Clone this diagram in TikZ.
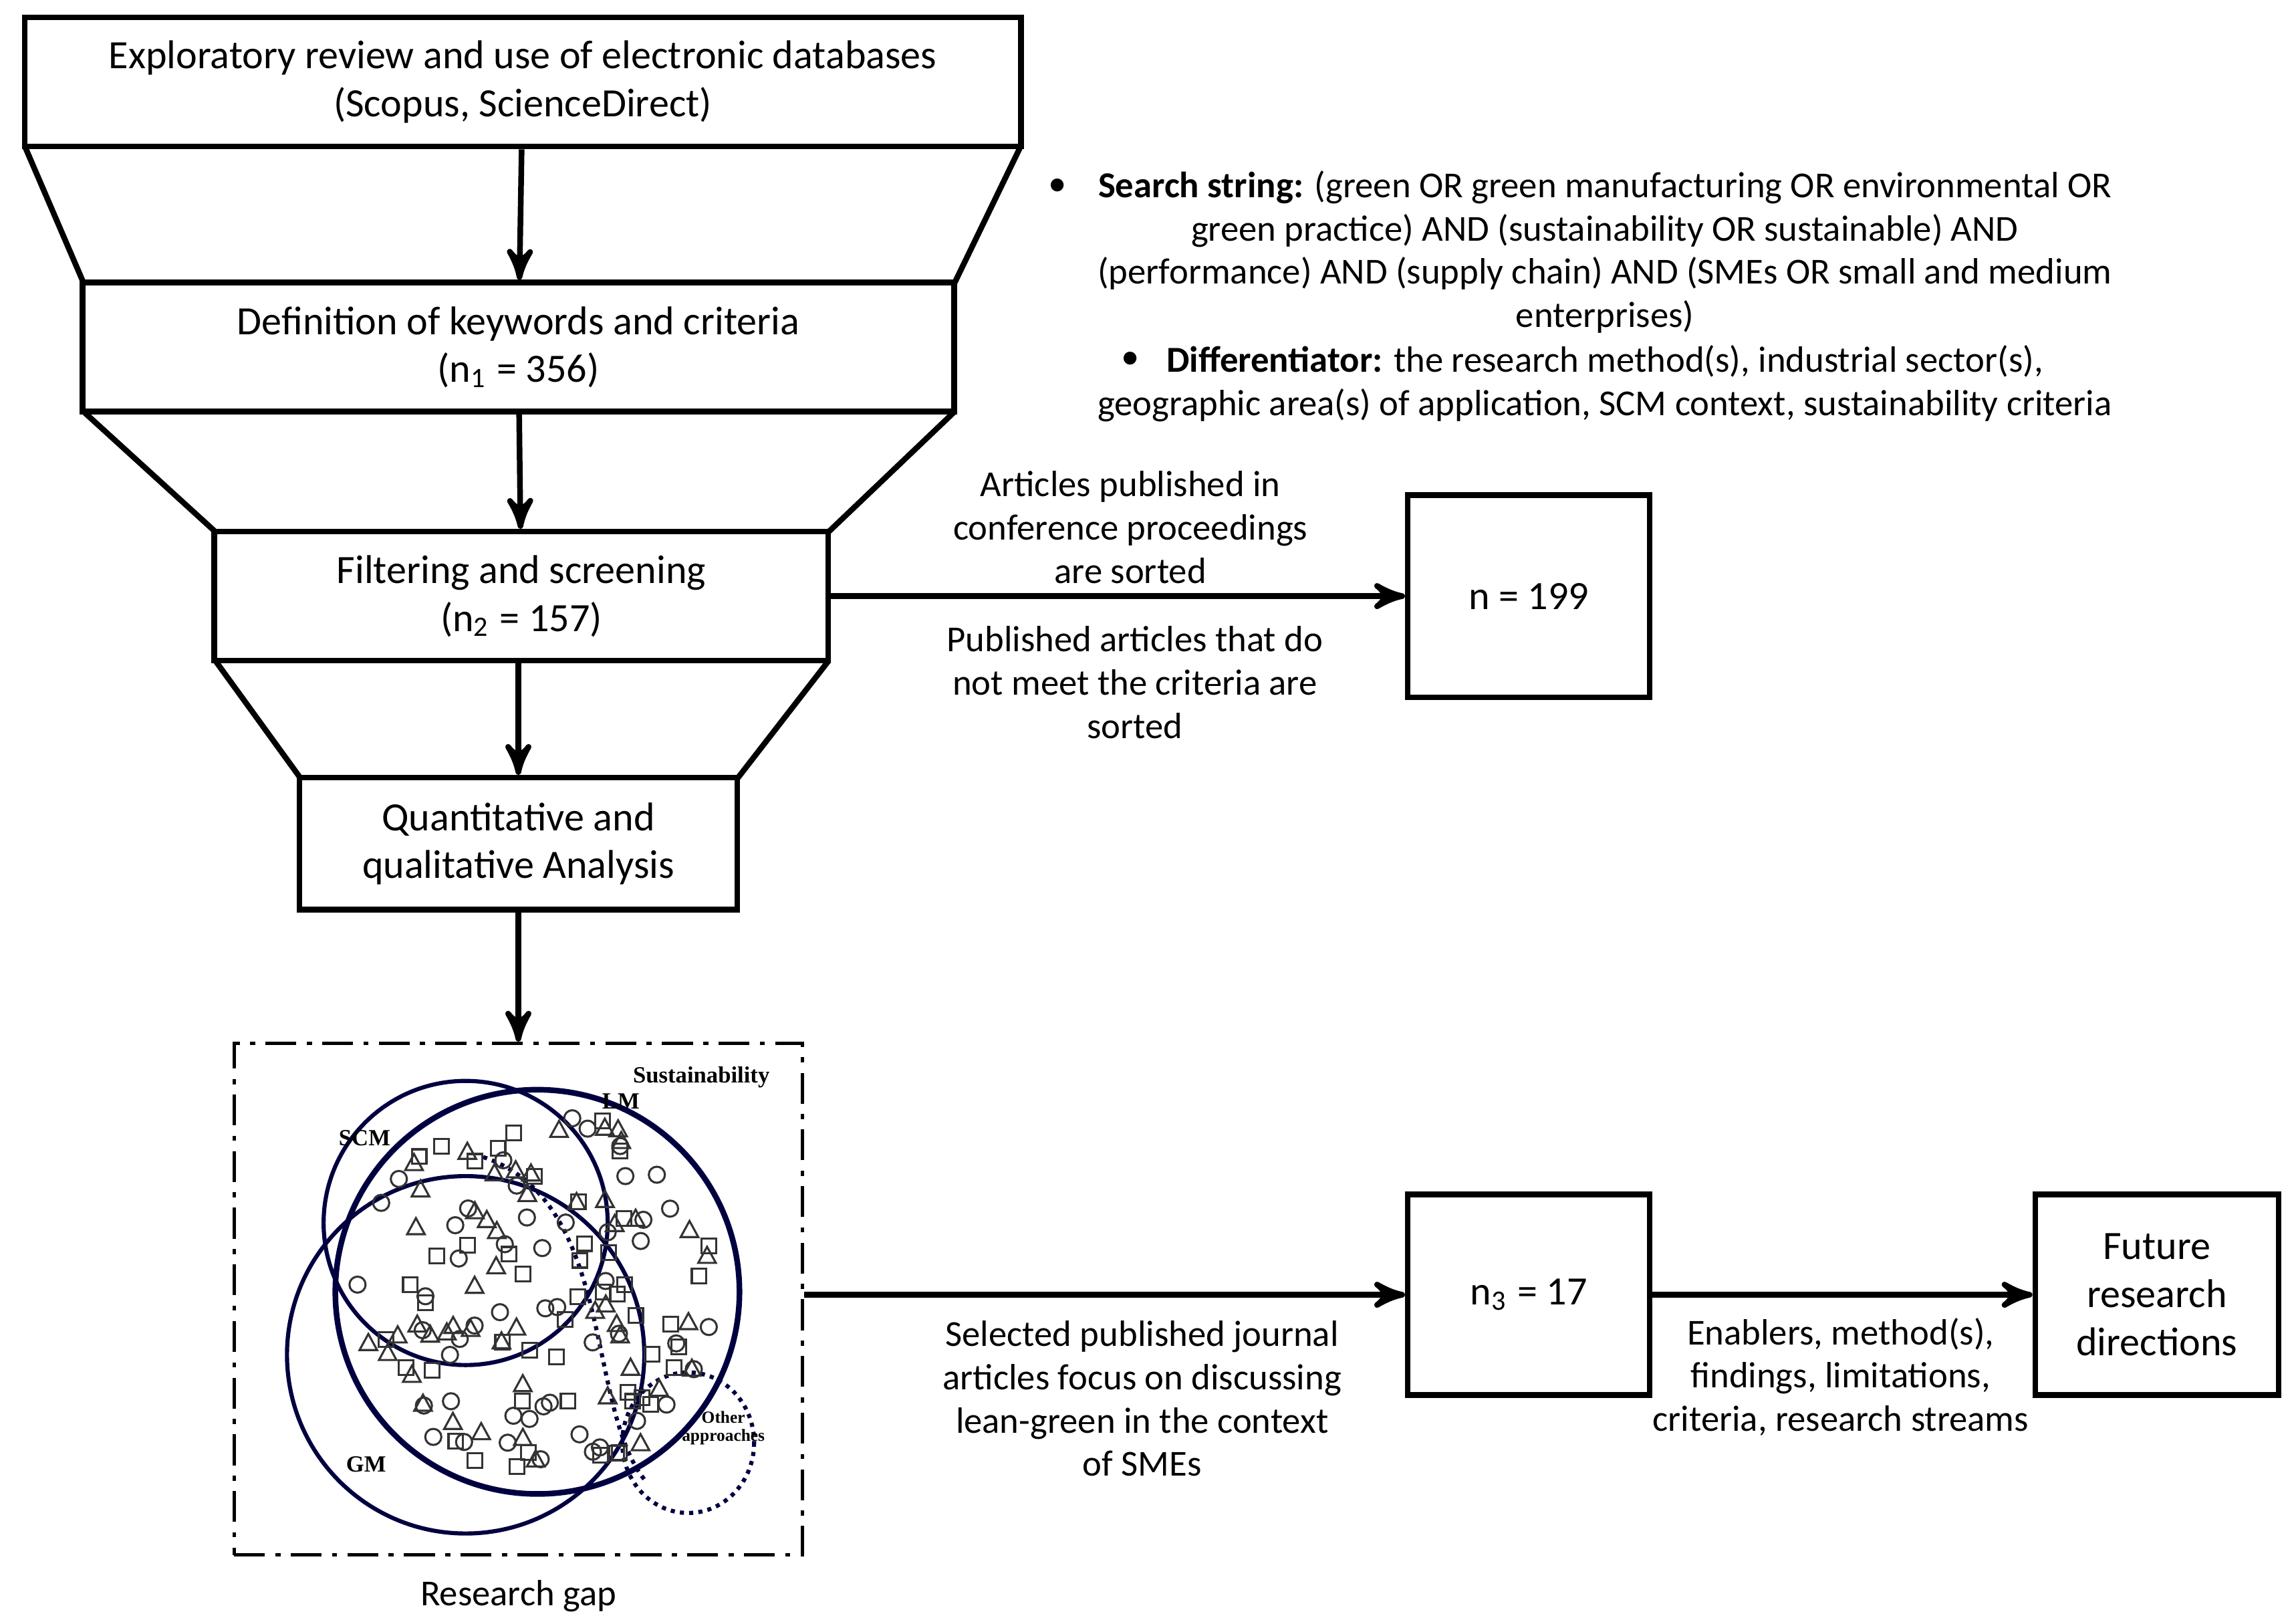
\documentclass[tikz,border=0pt]{standalone}
\usepackage{fontspec}
\setmainfont{Carlito}
\newfontfamily\vennfont{Liberation Serif}
\usetikzlibrary{arrows, positioning}
\tikzstyle{stage}=[draw, line width=1.1pt, align=center, inner sep=0pt]
\tikzstyle{note}=[align=center, font=\fontsize{7.1}{8.4}\selectfont]
\tikzstyle{flow}=[->, >=stealth', line width=1.1pt]
\tikzstyle{venn}=[draw=black!75!blue, line width=0.8pt]
\tikzstyle{vennlabel}=[font=\fontsize{4.5}{5}\selectfont\bfseries\vennfont]

\begin{document}
\begin{tikzpicture}[x=0.01cm, y=-0.01cm, font=\fontsize{7.8}{9.3}\selectfont]
      \useasboundingbox (0,0) rectangle (1568,1107);

      % funnel
      \draw[line width=1.1pt] (17,100) -- (57,193) (697,100) -- (652,193);
      \draw[line width=1.1pt] (57,281) -- (147,363) (652,281) -- (566,363);
      \draw[line width=1.1pt] (147,451) -- (205,531) (566,451) -- (504,531);

      \node[stage, minimum width=6.8cm, minimum height=0.88cm] (explore) at (357,56)
        {Exploratory review and use of electronic databases\\(Scopus, ScienceDirect)};
      \node[stage, minimum width=5.95cm, minimum height=0.88cm] (keywords) at (354,237)
        {Definition of keywords and criteria\\($\mathrm{n_1}$ = 356)};
      \node[stage, minimum width=4.19cm, minimum height=0.88cm] (filter) at (356,407)
        {Filtering and screening\\($\mathrm{n_2}$ = 157)};
      \node[stage, minimum width=2.99cm, minimum height=0.9cm] (analysis) at (354,576)
        {Quantitative and\\qualitative Analysis};

      \node[stage, minimum width=1.65cm, minimum height=1.38cm] (sorted) at (1044,407) {n = 199};
      \node[stage, minimum width=1.65cm, minimum height=1.37cm] (selected) at (1044,884) {$\mathrm{n_3}$ = 17};
      \node[stage, minimum width=1.66cm, minimum height=1.37cm] (future) at (1473,884)
        {Future\\research\\directions};

      % research gap
      \node[draw, dash pattern=on 6pt off 2pt on 1pt off 2pt, line width=0.7pt,
            minimum width=3.88cm, minimum height=3.49cm] (gap) at (354,887) {};
      \node[vennlabel, anchor=north east] at (538,716) {Sustainability};
      \node[below=1pt of gap, font=\fontsize{7.1}{8.4}\selectfont] (gaplabel) {Research gap};
      \draw[venn] (318,835) circle (97);
      \draw[venn] (318,925) circle (122);
      \draw[venn, line width=1.1pt] (367,882) circle (138);
      \draw[venn, densely dotted] (330,790) .. controls (420,820) and (400,960) .. (440,1010);
      \draw[venn, densely dotted] (470,985) ellipse (45 and 48);
      \node[vennlabel] at (249,777) {SCM};
      \node[vennlabel] at (424,752) {LM};
      \node[vennlabel] at (250,1000) {GM};
      \node[vennlabel, font=\fontsize{3.3}{3.6}\selectfont\bfseries\vennfont, align=center] at (494,975) {Other\\approaches};
      \pgfmathsetseed{7}
      \foreach \i in {1,...,150} {
        \pgfmathsetmacro{\ang}{360*rnd}
        \pgfmathsetmacro{\rad}{125*sqrt(rnd)}
        \pgfmathsetmacro{\px}{367+\rad*cos(\ang)}
        \pgfmathsetmacro{\py}{882+\rad*sin(\ang)}
        \pgfmathtruncatemacro{\kind}{mod(\i,3)}
        \ifnum\kind=0
          \draw[black!80, line width=0.4pt] (\px,\py) circle (5.5);
        \else\ifnum\kind=1
          \draw[black!80, line width=0.4pt] (\px-5,\py-5) rectangle (\px+5,\py+5);
        \else
          \draw[black!80, line width=0.4pt] (\px-6,\py+5) -- (\px+6,\py+5) -- (\px,\py-6) -- cycle;
        \fi\fi
      }

      % arrows
      \draw[flow] (explore) -- (keywords);
      \draw[flow] (keywords) -- (filter);
      \draw[flow] (filter.south -| analysis) -- (analysis);
      \draw[flow] (analysis.south -| gaplabel) -- (gaplabel |- gap.north);
      \draw[flow] (filter) -- (sorted);
      \draw[flow] (gap.east |- selected) -- (selected);
      \draw[flow] (selected) -- (future);

      % labels
      \node[note] at (772,360) {Articles published in\\conference proceedings\\are sorted};
      \node[note] at (775,466) {Published articles that do\\not meet the criteria are\\sorted};
      \node[note] at (780,955) {Selected published journal\\articles focus on discussing\\lean-green in the context\\of SMEs};
      \node[note] at (1257,940) {Enablers, method(s),\\findings, limitations,\\criteria, research streams};

      \node[note] (search) at (1096,172)
        {\textbf{Search string:} (green OR green manufacturing OR environmental OR\\
         green practice) AND (sustainability OR sustainable) AND\\
         (performance) AND (supply chain) AND (SMEs OR small and medium\\
         enterprises)};
      \node[note] (diff) at (1096,262)
        {\textbf{Differentiator:} the research method(s), industrial sector(s),\\
         geographic area(s) of application, SCM context, sustainability criteria};
      \node[note] at (722,128) {\textbullet};
      \node[note] at (772,246) {\textbullet};
\end{tikzpicture}
\end{document}
